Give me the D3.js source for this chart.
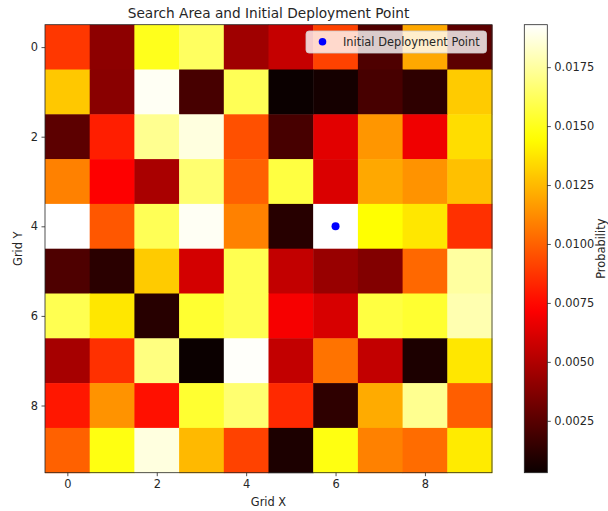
<!DOCTYPE html>
<html><head><meta charset="utf-8">
<script src="https://cdn.jsdelivr.net/npm/d3@7/dist/d3.min.js"></script>
<style>body{margin:0;background:#fff}svg{display:block}text{font-family:"DejaVu Sans",sans-serif;fill:#262626}</style>
</head><body><svg id="c" width="608" height="511"></svg>
<script>
const xCats=[0,1,2,3,4,5,6,7,8,9];
const yCats=[0,1,2,3,4,5,6,7,8,9];
const row0=[0.0088,0.0040,0.0150,0.0163,0.0045,0.0056,0.0091,0.0022,0.0120,0.0026];
const row1=[0.0129,0.0039,0.0191,0.0020,0.0161,0.0003,0.0006,0.0020,0.0013,0.0130];
const row2=[0.0026,0.0081,0.0172,0.0187,0.0095,0.0020,0.0064,0.0115,0.0068,0.0135];
const row3=[0.0109,0.0072,0.0048,0.0166,0.0100,0.0157,0.0062,0.0120,0.0114,0.0127];
const row4=[0.0193,0.0097,0.0161,0.0191,0.0109,0.0011,0.0193,0.0145,0.0138,0.0086];
const row5=[0.0022,0.0012,0.0130,0.0060,0.0160,0.0055,0.0043,0.0037,0.0102,0.0175];
const row6=[0.0160,0.0138,0.0011,0.0154,0.0160,0.0070,0.0061,0.0157,0.0154,0.0178];
const row7=[0.0047,0.0086,0.0169,0.0003,0.0192,0.0055,0.0105,0.0055,0.0008,0.0138];
const row8=[0.0079,0.0114,0.0077,0.0154,0.0166,0.0084,0.0013,0.0121,0.0172,0.0099];
const row9=[0.0100,0.0148,0.0187,0.0125,0.0091,0.0008,0.0148,0.0109,0.0103,0.0139];
const rows=[row0,row1,row2,row3,row4,row5,row6,row7,row8,row9];
const axisTicks=[0,2,4,6,8];
const cbTicks=[0.0025,0.0050,0.0075,0.0100,0.0125,0.0150,0.0175];
const deploy={x:6,y:4};
const titleText="Search Area and Initial Deployment Point";
const legendText="Initial Deployment Point";

function hot(t){t=Math.max(0,Math.min(1,t));
 const r=t<0.365079?0.0416+(1-0.0416)*t/0.365079:1;
 const g=t<0.365079?0:(t<0.746032?(t-0.365079)/(0.746032-0.365079):1);
 const b=t<0.746032?0:(t-0.746032)/(1-0.746032);
 return d3.rgb(r*255,g*255,b*255).toString();}

const FS=11.4, TFS=13.7;
const svg=d3.select("#c");
const L=45,R=492,T=24.7,B=472.7;
const x=d3.scaleBand().domain(xCats).range([L,R]).padding(0);
const y=d3.scaleBand().domain(yCats).range([T,B]).padding(0);
const xl=d3.scaleLinear().domain([-0.5,9.5]).range([L,R]);
const yl=d3.scaleLinear().domain([-0.5,9.5]).range([T,B]);
const all=rows.flat();
const vmin=d3.min(all),vmax=d3.max(all);
const norm=d3.scaleLinear().domain([vmin,vmax]).range([0,1]);

const cells=[];rows.forEach((r,i)=>r.forEach((v,j)=>cells.push({i,j,v})));
svg.append("g").selectAll("rect").data(cells).join("rect")
 .attr("x",d=>x(d.j)).attr("y",d=>y(d.i)).attr("width",x.bandwidth()+0.5).attr("height",y.bandwidth()+0.5)
 .attr("fill",d=>hot(norm(d.v)));
svg.append("rect").attr("x",L).attr("y",T).attr("width",R-L).attr("height",B-T).attr("fill","none").attr("stroke","#262626").attr("stroke-width",0.8);

const xa=svg.append("g").attr("transform",`translate(0,${B})`).call(d3.axisBottom(xl).tickValues(axisTicks).tickSize(3.5).tickPadding(3.5).tickFormat(d3.format("d")));
const ya=svg.append("g").attr("transform",`translate(${L},0)`).call(d3.axisLeft(yl).tickValues(axisTicks).tickSize(3.5).tickPadding(3.5).tickFormat(d3.format("d")));
[xa,ya].forEach(a=>{a.select(".domain").remove();a.selectAll("line").attr("stroke","#262626").attr("stroke-width",0.8);a.selectAll("text").attr("font-size",FS).attr("font-family","DejaVu Sans").attr("fill","#262626");});

svg.append("text").attr("x",(L+R)/2).attr("y",17.5).attr("text-anchor","middle").attr("font-size",TFS).text(titleText);
svg.append("text").attr("x",(L+R)/2).attr("y",506).attr("text-anchor","middle").attr("font-size",FS).text("Grid X");
svg.append("text").attr("transform",`translate(22,${(T+B)/2}) rotate(-90)`).attr("text-anchor","middle").attr("font-size",FS).text("Grid Y");

// deployment point
svg.append("circle").attr("cx",xl(deploy.x)).attr("cy",yl(deploy.y)).attr("r",4).attr("fill","#0000ff");

// legend
const lg=svg.append("g");
lg.append("rect").attr("x",306).attr("y",31).attr("width",180.5).attr("height",22).attr("rx",3).attr("fill","#fff").attr("fill-opacity",0.8).attr("stroke","#cccccc").attr("stroke-width",0.8);
lg.append("circle").attr("cx",322.5).attr("cy",41.8).attr("r",3.8).attr("fill","#0000ff");
lg.append("text").attr("x",343).attr("y",46).attr("font-size",FS).text(legendText);

// colorbar
const cbL=524.3,cbW=23,cbT=24.7,cbB=472.7;
const cs=d3.scaleLinear().domain([vmin,vmax]).range([cbB,cbT]);
const defs=svg.append("defs");
const grad=defs.append("linearGradient").attr("id","g").attr("x1",0).attr("y1",1).attr("x2",0).attr("y2",0);
d3.range(0,1.0001,0.02).forEach(t=>grad.append("stop").attr("offset",t).attr("stop-color",hot(t)));
svg.append("rect").attr("x",cbL).attr("y",cbT).attr("width",cbW).attr("height",cbB-cbT).attr("fill","url(#g)").attr("stroke","#262626").attr("stroke-width",0.8);
const ca=svg.append("g").attr("transform",`translate(${cbL+cbW},0)`).call(d3.axisRight(cs).tickValues(cbTicks).tickSize(3.5).tickPadding(3.5).tickFormat(d3.format(".4f")));
ca.select(".domain").remove();
ca.selectAll("line").attr("stroke","#262626").attr("stroke-width",0.8);
ca.selectAll("text").attr("font-size",FS).attr("font-family","DejaVu Sans").attr("fill","#262626");
svg.append("text").attr("transform",`translate(605.3,${(cbT+cbB)/2}) rotate(-90)`).attr("text-anchor","middle").attr("font-size",FS).text("Probability");
</script></body></html>
